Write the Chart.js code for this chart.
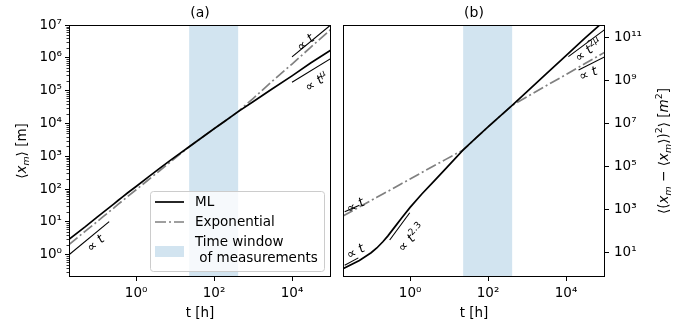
<!DOCTYPE html>
<html>
<head>
<meta charset="utf-8">
<script src="https://cdn.jsdelivr.net/npm/chart.js@4.4.0/dist/chart.umd.min.js"></script>
<style>
  body { margin: 0; background: #fff; }
  #wrap { position: relative; width: 687px; height: 328px; }
  canvas { position: absolute; top: 0; }
</style>
</head>
<body>
<div id="wrap">
  <canvas id="meanChart" width="340" height="328" style="left:0"></canvas>
  <canvas id="varChart" width="347" height="328" style="left:340px"></canvas>
</div>
<script>
'use strict'
{
  // time grid shared by both panels [h]
  const tHours = [0.019, 0.05, 0.1, 0.14, 0.2, 0.27, 0.35, 0.45, 0.6, 1, 2, 4, 8, 23, 50, 100, 200, 415, 1000, 3000, 10000, 30000, 100000];

  // (a) mean position <x_m> [m]
  const meanML  = [2.95, 7.2, 14.1, 19.3, 26.9, 35.6, 45.7, 57.7, 75.9, 120, 229, 427, 794, 1950, 3800, 6920, 12300, 22900, 45700, 110000, 282000, 692000, 1740000];
  const meanExp = [2.04, 5.25, 10.2, 14.2, 20.0, 26.7, 34.7, 44.3, 58.9, 95.5, 186, 363, 708, 1950, 3800, 6920, 12300, 22900, 57500, 186000, 646000, 2090000, 7410000];

  // (b) variance <(x_m - <x_m>)^2> [m^2]
  const varML  = [1.86, 4.47, 10.2, 17.0, 33.1, 62.4, 115, 207, 407, 1318, 5500, 20900, 79400, 617000, 2290000, 7240000, 22400000, 72400000, 316000000, 2.0e9, 1.51e10, 9.55e10, 6.6e11];
  const varExp = [525, 1380, 2750, 3850, 5500, 7430, 9550, 12300, 16600, 27500, 55000, 110000, 219000, 617000, 2290000, 7240000, 22400000, 72400000, 1.82e8, 5.75e8, 2.0e9, 6.3e9, 2.19e10];

  // guide lines, [t, value] end points
  const guideMeanEarly = [[0.019, 1], [0.204, 10.2]];
  const guideMeanLin   = [[10000, 1.07e6], [93000, 9.5e6]];
  const guideMeanMu    = [[10000, 1.8e5], [100000, 9.6e5]];
  const guideVarExp    = [[0.021, 830], [0.05, 1650]];
  const guideVarEarly  = [[0.021, 2.7], [0.047, 5.9]];
  const guideVarSteep  = [[0.30, 40], [0.98, 740]];
  const guideVar2Mu    = [[11500, 1.35e10], [100000, 2.5e11]];
  const guideVarLin    = [[21000, 3.2e9], [100000, 1.35e10]];

  // measurement period [h]
  const windowHours = [23, 415];

  const xTicks = [1, 100, 10000];
  const yTicksMean = [1, 10, 100, 1e3, 1e4, 1e5, 1e6, 1e7];
  const yTicksVar = [10, 1e3, 1e5, 1e7, 1e9, 1e11];

  const FONT = '"DejaVu Sans"';
  const TXT = 13.5;
  const SUP = {'0':'⁰','1':'¹','2':'²','3':'³','4':'⁴','5':'⁵','6':'⁶','7':'⁷','8':'⁸','9':'⁹','-':'⁻'};
  const powerLabel = v => '10' + String(Math.round(Math.log10(v))).split('').map(c => SUP[c]).join('');

  const pts = (xs, ys) => xs.map((x, i) => ({x: x, y: ys[i]}));
  const pairs = p => p.map(q => ({x: q[0], y: q[1]}));

  // text made of plain / italic / sub / sup runs, centred on (x, y)
  function drawRich(ctx, runs, x, y, size, angle) {
    ctx.save();
    ctx.translate(x, y);
    ctx.rotate(angle);
    ctx.textBaseline = 'alphabetic';
    ctx.textAlign = 'left';
    ctx.fillStyle = '#000';
    let w = 0;
    const parts = runs.map(r => {
      const s = (r.sup || r.sub) ? size * 0.7 : size;
      const font = (r.it ? 'italic ' : '') + s + 'px ' + FONT;
      ctx.font = font;
      const p = {r: r, font: font, x: w};
      w += ctx.measureText(r.t).width;
      return p;
    });
    for (const p of parts) {
      ctx.font = p.font;
      const dy = p.r.sup ? -size * 0.4 : p.r.sub ? size * 0.2 : 0;
      ctx.fillText(p.r.t, p.x - w / 2, size * 0.36 + dy);
    }
    ctx.restore();
  }

  const propT = (extra) => [{t: '∝ '}, {t: 't', it: 1}].concat(extra || []);

  const windowBand = {
    id: 'windowBand',
    beforeDatasetsDraw(chart) {
      const {ctx, chartArea: ca} = chart;
      const x = chart.scales.x;
      const x0 = x.getPixelForValue(windowHours[0]);
      const x1 = x.getPixelForValue(windowHours[1]);
      ctx.save();
      ctx.fillStyle = 'rgba(31,119,180,0.2)';
      ctx.fillRect(x0, ca.top, x1 - x0, ca.height);
      ctx.restore();
    }
  };

  const frame = {
    id: 'frame',
    afterDatasetsDraw(chart) {
      const {ctx, chartArea: ca} = chart;
      ctx.save();
      ctx.strokeStyle = '#000';
      ctx.lineWidth = 1;
      ctx.strokeRect(ca.left + 0.5, ca.top + 0.5, ca.width - 1, ca.height - 1);
      ctx.restore();
    }
  };

  // minor ticks on the left log axis
  const minorTicks = {
    id: 'minorTicks',
    afterDatasetsDraw(chart) {
      const {ctx, chartArea: ca} = chart;
      const y = chart.scales.y;
      ctx.save();
      ctx.strokeStyle = '#000';
      ctx.lineWidth = 0.8;
      ctx.beginPath();
      for (let d = -1; d < 7; d++) {
        for (let k = 2; k < 10; k++) {
          const v = k * Math.pow(10, d);
          if (v < y.min || v > y.max) continue;
          const py = Math.round(y.getPixelForValue(v)) + 0.5;
          ctx.moveTo(ca.left - 2.5, py);
          ctx.lineTo(ca.left, py);
        }
      }
      ctx.stroke();
      ctx.restore();
    }
  };

  function titles(letter, yRuns, yTitleX) {
    return {
      id: 'titles',
      afterDraw(chart) {
        const {ctx, chartArea: ca} = chart;
        const cx = (ca.left + ca.right) / 2;
        drawRich(ctx, [{t: letter}], cx, 12, 14, 0);
        drawRich(ctx, [{t: 't [h]'}], cx, 312, TXT, 0);
        drawRich(ctx, yRuns, yTitleX, (ca.top + ca.bottom) / 2, TXT, -Math.PI / 2);
      }
    };
  }

  function notes(list) {
    return {
      id: 'notes',
      afterDatasetsDraw(chart) {
        const {ctx} = chart;
        for (const n of list) {
          const px = chart.scales.x.getPixelForValue(n.at[0]);
          const py = chart.scales.y.getPixelForValue(n.at[1]);
          drawRich(ctx, n.runs, px, py, 13, n.deg * Math.PI / 180);
        }
      }
    };
  }

  const legendBox = {
    id: 'legendBox',
    afterDraw(chart) {
      const {ctx, chartArea: ca} = chart;
      const w = 174, h = 80;
      const left = ca.right - 7 - w, top = ca.bottom - 6 - h;
      ctx.save();
      ctx.beginPath();
      ctx.roundRect(left + 0.5, top + 0.5, w, h, 3);
      ctx.fillStyle = 'rgba(255,255,255,0.8)';
      ctx.fill();
      ctx.strokeStyle = '#cccccc';
      ctx.lineWidth = 1;
      ctx.stroke();

      ctx.textBaseline = 'middle';
      ctx.textAlign = 'left';
      ctx.font = TXT + 'px ' + FONT;
      const named = chart.data.datasets.filter(d => d.label);
      named.forEach((d, i) => {
        const y = top + 11 + i * 20;
        ctx.beginPath();
        ctx.setLineDash(d.borderDash || []);
        ctx.strokeStyle = d.borderColor;
        ctx.lineWidth = d.borderWidth;
        ctx.moveTo(left + 5, y);
        ctx.lineTo(left + 34, y);
        ctx.stroke();
        ctx.setLineDash([]);
        ctx.fillStyle = '#000';
        ctx.fillText(d.label, left + 45, y);
      });
      ctx.fillStyle = 'rgba(31,119,180,0.2)';
      ctx.fillRect(left + 5, top + 55, 29, 11);
      ctx.fillStyle = '#000';
      ctx.fillText('Time window', left + 45, top + 51);
      ctx.fillText(' of measurements', left + 45, top + 67);
      ctx.restore();
    }
  };

  const tickFont = {family: 'DejaVu Sans', size: TXT};

  function xScale() {
    return {
      type: 'logarithmic', min: 0.019, max: 1e5,
      afterBuildTicks: s => { s.ticks = xTicks.map(v => ({value: v})); },
      afterFit: s => { s.height = 51; },
      ticks: {callback: powerLabel, autoSkip: false, maxRotation: 0, padding: 4, color: '#000', font: tickFont},
      grid: {drawOnChartArea: false, tickLength: 4, tickColor: '#000', tickWidth: 1},
      border: {display: false},
    };
  }

  function yScale(position, min, max, ticks, width, pad) {
    return {
      type: 'logarithmic', position: position, min: min, max: max,
      afterBuildTicks: s => { s.ticks = ticks.map(v => ({value: v})); },
      afterFit: s => { s.width = width; },
      ticks: {callback: powerLabel, autoSkip: false, padding: pad, color: '#000', font: tickFont},
      grid: {drawOnChartArea: false, tickLength: 4, tickColor: '#000', tickWidth: 1},
      border: {display: false},
    };
  }

  const mlStyle = {borderColor: '#000', borderWidth: 1.7};
  const expStyle = {borderColor: '#808080', borderWidth: 1.7, borderDash: [11, 3, 2, 3]};
  const guide = data => ({data: pairs(data), borderColor: '#000', borderWidth: 1.1});

  const common = {
    responsive: false,
    animation: false,
    events: [],
    elements: {point: {radius: 0}, line: {tension: 0}},
    plugins: {legend: {display: false}, tooltip: {enabled: false}, title: {display: false}},
  };

  const meanChart = new Chart(document.getElementById('meanChart').getContext('2d'), {
    type: 'line',
    data: {
      datasets: [
        Object.assign({label: 'ML', data: pts(tHours, meanML)}, mlStyle),
        Object.assign({label: 'Exponential', data: pts(tHours, meanExp)}, expStyle),
        guide(guideMeanEarly),
        guide(guideMeanLin),
        guide(guideMeanMu),
      ],
    },
    options: Object.assign({}, common, {
      layout: {padding: {top: 25, right: 9, left: 0, bottom: 0}},
      scales: {
        x: xScale(),
        y: yScale('left', 0.21, 1e7, yTicksMean, 69, 3),
      },
    }),
    plugins: [
      windowBand, frame, minorTicks, legendBox,
      titles('(a)', [{t: '⟨'}, {t: 'x', it: 1}, {t: 'm', it: 1, sub: 1}, {t: '⟩ [m]'}], 21),
      notes([
        {runs: propT(), at: [0.089, 2.3], deg: -40},
        {runs: propT(), at: [21500, 3.0e6], deg: -40},
        {runs: propT([{t: 'μ', it: 1, sup: 1}]), at: [41500, 1.9e5], deg: -32},
      ]),
    ],
  });

  const varChart = new Chart(document.getElementById('varChart').getContext('2d'), {
    type: 'line',
    data: {
      datasets: [
        Object.assign({label: 'ML', data: pts(tHours, varML)}, mlStyle),
        Object.assign({label: 'Exponential', data: pts(tHours, varExp)}, expStyle),
        guide(guideVarExp),
        guide(guideVarEarly),
        guide(guideVarSteep),
        guide(guideVar2Mu),
        guide(guideVarLin),
      ],
    },
    options: Object.assign({}, common, {
      layout: {padding: {top: 25, right: 0, left: 3, bottom: 0}},
      scales: {
        x: xScale(),
        y: yScale('right', 0.76, 4e11, yTicksVar, 82, 5),
      },
    }),
    plugins: [
      windowBand, frame,
      titles('(b)', [
        {t: '⟨('}, {t: 'x', it: 1}, {t: 'm', it: 1, sub: 1}, {t: ' − ⟨'}, {t: 'x', it: 1}, {t: 'm', it: 1, sub: 1},
        {t: '⟩)'}, {t: '2', sup: 1}, {t: '⟩ ['}, {t: 'm', it: 1}, {t: '2', sup: 1}, {t: ']'},
      ], 323),
      notes([
        {runs: propT(), at: [0.039, 1700], deg: -28},
        {runs: propT(), at: [0.039, 12.3], deg: -28},
        {runs: propT([{t: '2.3', sup: 1}]), at: [1.05, 52], deg: -47},
        {runs: propT([{t: '2', sup: 1}, {t: 'μ', it: 1, sup: 1}]), at: [36500, 2.8e10], deg: -37},
        {runs: propT(), at: [36500, 2.3e9], deg: -22},
      ]),
    ],
  });
}
</script>
</body>
</html>
